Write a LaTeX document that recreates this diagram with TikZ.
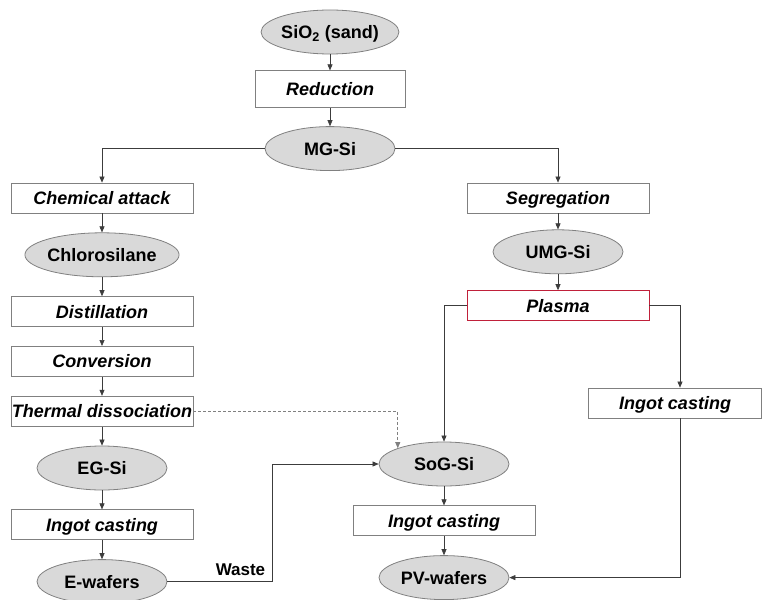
\documentclass[tikz,border=0pt]{standalone}
\usepackage{fontspec}
\setmainfont{Liberation Sans}
\usetikzlibrary{positioning,shapes.geometric,arrows.meta}
\definecolor{boxgray}{RGB}{128,128,128}
\definecolor{fillgray}{RGB}{217,217,217}
\definecolor{linegray}{RGB}{60,60,60}
\definecolor{plasmared}{RGB}{192,32,58}

\begin{document}
\begin{tikzpicture}[
      x=1pt, y=-1pt,
      nodes={font=\fontsize{18}{21}\selectfont\bfseries, inner sep=0pt,
        text height=13pt, text depth=0pt},
      material/.style={ellipse, draw=boxgray, fill=fillgray, thick,
        minimum width=130pt, minimum height=44pt},
      process/.style={rectangle, draw=boxgray, fill=white, thick,
        minimum width=182pt, minimum height=30pt, font=\fontsize{18}{21}\selectfont\bfseries\itshape},
      flow/.style={draw=linegray, semithick, -{Triangle[length=6pt,width=5pt]}},
      node distance=19pt
      ]
  \useasboundingbox (0,0) rectangle (762,599);

  % Top of the chain
  \node[material] (sio2) at (330,32) {SiO\textsubscript{2} (sand)};
  \node[process, below=16pt of sio2, minimum width=150pt, minimum height=37pt] (red) {Reduction};
  \node[material, below=18pt of red] (mg) {MG-Si};

  % Chemical route
  \node[process] (chem) at (102,198) {Chemical attack};
  \node[material, below=of chem] (chlor) {Chlorosilane};
  \node[process, below=of chlor] (dist) {Distillation};
  \node[process, below=of dist] (conv) {Conversion};
  \node[process, below=of conv] (therm) {Thermal dissociation};
  \node[material, below=of therm] (eg) {EG-Si};
  \node[process, below=of eg] (ingotL) {Ingot casting};
  \node[material, below=of ingotL] (ew) {E-wafers};

  % Metallurgical route
  \node[process] (seg) at (558,198) {Segregation};
  \node[material, below=16pt of seg] (umg) {UMG-Si};
  \node[process, below=16pt of umg, draw=plasmared] (plasma) {Plasma};
  \node[process, minimum width=173pt] (ingotR) at (675,403) {Ingot casting};

  % Solar grade
  \node[material] (sog) at (444,464) {SoG-Si};
  \node[process, below=of sog] (ingotM) {Ingot casting};
  \node[material, below=of ingotM] (pv) {PV-wafers};

  \coordinate[right=105pt of ew.east] (wturn);

  % Connect the nodes
  \draw[flow] (sio2) -- (red);
  \draw[flow] (red) -- (mg);
  \draw[flow] (mg) -| (chem);
  \draw[flow] (mg) -| (seg);
  \draw[flow] (chem) -- (chlor);
  \draw[flow] (chlor) -- (dist);
  \draw[flow] (dist) -- (conv);
  \draw[flow] (conv) -- (therm);
  \draw[flow] (therm) -- (eg);
  \draw[flow] (eg) -- (ingotL);
  \draw[flow] (ingotL) -- (ew);
  \draw[flow] (seg) -- (umg);
  \draw[flow] (umg) -- (plasma);
  \draw[flow] (plasma) -| (sog);
  \draw[flow] (plasma) -| ([xshift=5pt]ingotR.north);
  \draw[flow] ([xshift=5pt]ingotR.south) |- (pv);
  \draw[flow] (sog) -- (ingotM);
  \draw[flow] (ingotM) -- (pv);
  \draw[flow, draw=boxgray, dashed, dash pattern=on 3pt off 2pt] (therm) -| (sog.north west);
  \draw[flow] (ew.east) -- (wturn) |- (sog);
  \node[above left=6pt and 7pt of wturn, font=\fontsize{17}{20}\selectfont\bfseries] (waste) {Waste};

\end{tikzpicture}
\end{document}
